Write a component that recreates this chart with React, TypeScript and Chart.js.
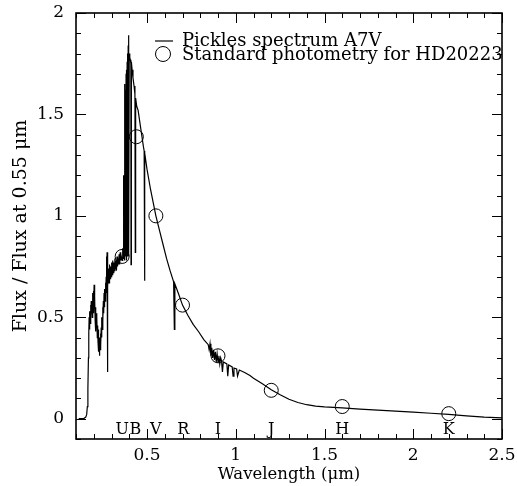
import React, { useEffect, useRef } from "react";
import { Chart, registerables } from "chart.js";

Chart.register(...registerables);

// Pickles A7V spectrum (wavelength in micron, flux normalised at 0.55 micron)
const specWave = [
  0.115, 0.13, 0.145, 0.155, 0.16, 0.164, 0.167, 0.17, 0.172, 0.174,
  0.176, 0.178, 0.18, 0.182, 0.184, 0.186, 0.188, 0.19, 0.192, 0.194,
  0.196, 0.198, 0.2, 0.202, 0.204, 0.206, 0.208, 0.21, 0.212, 0.214,
  0.216, 0.218, 0.22, 0.222, 0.224, 0.226, 0.228, 0.23, 0.232, 0.234,
  0.236, 0.238, 0.24, 0.242, 0.244, 0.246, 0.248, 0.25, 0.252, 0.254,
  0.256, 0.258, 0.26, 0.262, 0.264, 0.266, 0.268, 0.27, 0.272, 0.273,
  0.275, 0.2765, 0.278, 0.28, 0.283, 0.286, 0.289, 0.292, 0.295, 0.298,
  0.301, 0.304, 0.307, 0.31, 0.313, 0.316, 0.319, 0.322, 0.325, 0.328,
  0.331, 0.334, 0.337, 0.34, 0.343, 0.346, 0.349, 0.352, 0.355, 0.36,
  0.363, 0.365, 0.367, 0.368, 0.37, 0.371, 0.373, 0.374, 0.376, 0.377,
  0.379, 0.38, 0.382, 0.383, 0.385, 0.386, 0.388, 0.389, 0.391, 0.392,
  0.394, 0.395, 0.397, 0.398, 0.4, 0.403, 0.406, 0.409, 0.41, 0.412,
  0.416, 0.421, 0.427, 0.432, 0.434, 0.436, 0.442, 0.45, 0.46, 0.47,
  0.48, 0.484, 0.486, 0.488, 0.5, 0.52, 0.55, 0.57, 0.59, 0.61,
  0.63, 0.65, 0.654, 0.657, 0.68, 0.7, 0.73, 0.76, 0.79, 0.82,
  0.845, 0.85, 0.855, 0.86, 0.865, 0.87, 0.875, 0.88, 0.885, 0.89,
  0.895, 0.9, 0.905, 0.91, 0.915, 0.92, 0.925, 0.93, 0.95, 0.955,
  0.96, 0.98, 0.985, 0.99, 1.005, 1.01, 1.02, 1.05, 1.08, 1.1,
  1.15, 1.2, 1.25, 1.3, 1.35, 1.4, 1.45, 1.5, 1.6, 1.7,
  1.8, 1.9, 2.0, 2.1, 2.2, 2.3, 2.4, 2.5,
];
const specFlux = [
  0.0, 0.0, 0.002, 0.008, 0.02, 0.06, 0.15, 0.3, 0.42, 0.5,
  0.44, 0.53, 0.47, 0.56, 0.49, 0.58, 0.52, 0.57, 0.5, 0.62,
  0.55, 0.63, 0.52, 0.66, 0.56, 0.6, 0.48, 0.55, 0.43, 0.52,
  0.46, 0.5, 0.4, 0.46, 0.38, 0.44, 0.33, 0.4, 0.31, 0.37,
  0.34, 0.42, 0.36, 0.45, 0.4, 0.5, 0.44, 0.55, 0.48, 0.58,
  0.52, 0.62, 0.55, 0.64, 0.58, 0.67, 0.6, 0.7, 0.8, 0.62,
  0.82, 0.23, 0.7, 0.65, 0.74, 0.67, 0.76, 0.69, 0.75, 0.7,
  0.77, 0.71, 0.78, 0.72, 0.77, 0.73, 0.79, 0.74, 0.78, 0.73,
  0.8, 0.75, 0.79, 0.76, 0.81, 0.76, 0.82, 0.78, 0.8, 0.78,
  0.84, 0.79, 0.95, 0.8, 1.2, 0.82, 1.5, 0.78, 1.65, 0.85,
  1.62, 0.8, 1.7, 0.78, 1.72, 0.82, 1.76, 0.8, 1.8, 1.1,
  1.84, 1.0, 1.89, 0.8, 1.8, 1.78, 1.77, 1.75, 0.76, 1.76,
  1.72, 1.68, 1.64, 1.6, 0.82, 1.58, 1.54, 1.52, 1.46, 1.4,
  1.34, 1.32, 0.68, 1.31, 1.23, 1.13, 1.0, 0.93, 0.86, 0.79,
  0.73, 0.675, 0.44, 0.665, 0.61, 0.56, 0.51, 0.465, 0.43, 0.39,
  0.365, 0.34, 0.37, 0.31, 0.35, 0.3, 0.34, 0.29, 0.33, 0.28,
  0.32, 0.28, 0.31, 0.27, 0.3, 0.285, 0.23, 0.28, 0.27, 0.21,
  0.265, 0.255, 0.21, 0.25, 0.245, 0.21, 0.24, 0.228, 0.213, 0.2,
  0.172, 0.143, 0.118, 0.096, 0.08, 0.069, 0.062, 0.058, 0.053, 0.047,
  0.042, 0.037, 0.032, 0.027, 0.021, 0.014, 0.008, 0.004,
];

// Standard photometry for HD20223
const photWave = [0.36, 0.44, 0.55, 0.7, 0.9, 1.2, 1.6, 2.2];
const photFlux = [0.8, 1.39, 1.0, 0.56, 0.31, 0.14, 0.06, 0.025];

// Band labels
const bandNames = ["U", "B", "V", "R", "I", "J", "H", "K"];
const bandWave = [0.36, 0.435, 0.55, 0.705, 0.9, 1.2, 1.6, 2.2];

// Ticks
const xTickValues = [0.5, 1, 1.5, 2, 2.5];
const xTickLabels = ["0.5", "1", "1.5", "2", "2.5"];
const yTickValues = [0, 0.5, 1, 1.5, 2];
const yTickLabels = ["0", "0.5", "1", "1.5", "2"];

const FONT = '"DejaVu Serif", serif';

const framePlugin = {
  id: "frameTicks",
  afterDatasetsDraw(chart: any) {
    const { ctx, chartArea: a, scales } = chart;
    const x = scales.x;
    const y = scales.y;
    ctx.save();
    ctx.strokeStyle = "#000";
    ctx.lineWidth = 1.6;
    ctx.strokeRect(a.left, a.top, a.right - a.left, a.bottom - a.top);
    ctx.lineWidth = 1;
    ctx.beginPath();
    for (let i = 1; i <= 25; i++) {
      const px = Math.round(x.getPixelForValue(i / 10)) + 0.5;
      const len = i % 5 === 0 ? 10 : 5;
      ctx.moveTo(px, a.bottom);
      ctx.lineTo(px, a.bottom - len);
      ctx.moveTo(px, a.top);
      ctx.lineTo(px, a.top + len);
    }
    for (let i = -1; i <= 20; i++) {
      const py = Math.round(y.getPixelForValue(i / 10)) + 0.5;
      const len = i % 5 === 0 ? 10 : 5;
      ctx.moveTo(a.left, py);
      ctx.lineTo(a.left + len, py);
      ctx.moveTo(a.right, py);
      ctx.lineTo(a.right - len, py);
    }
    ctx.stroke();

    // band labels
    ctx.fillStyle = "#000";
    ctx.font = "16px " + FONT;
    ctx.textAlign = "center";
    ctx.textBaseline = "middle";
    const by = y.getPixelForValue(-0.053);
    bandNames.forEach((n, i) => {
      ctx.fillText(n, x.getPixelForValue(bandWave[i]), by);
    });

    // legend
    ctx.font = "18px " + FONT;
    ctx.textAlign = "left";
    const lx = a.left + 79;
    ctx.lineWidth = 1.2;
    ctx.beginPath();
    ctx.moveTo(lx, a.top + 28);
    ctx.lineTo(lx + 18, a.top + 28);
    ctx.stroke();
    ctx.fillText("Pickles spectrum A7V", lx + 27, a.top + 28);
    ctx.lineWidth = 1;
    ctx.beginPath();
    ctx.arc(lx + 8, a.top + 41, 7.5, 0, Math.PI * 2);
    ctx.stroke();
    ctx.fillText("Standard photometry for HD20223", lx + 27, a.top + 42);
    ctx.restore();
  },
};

export default function App() {
  const ref = useRef<HTMLCanvasElement | null>(null);
  useEffect(() => {
    if (!ref.current) return;
    const chart = new Chart(ref.current, {
      type: "scatter",
      data: {
        datasets: [
          {
            label: "Pickles spectrum A7V",
            data: specWave.map((w, i) => ({ x: w, y: specFlux[i] })),
            showLine: true,
            borderColor: "#000",
            borderWidth: 1.2,
            pointRadius: 0,
            tension: 0,
          },
          {
            label: "Standard photometry for HD20223",
            data: photWave.map((w, i) => ({ x: w, y: photFlux[i] })),
            showLine: false,
            pointStyle: "circle",
            pointRadius: 7,
            borderColor: "#000",
            borderWidth: 1,
            backgroundColor: "rgba(0,0,0,0)",
          },
        ],
      },
      options: {
        animation: false,
        responsive: false,
        devicePixelRatio: 1,
        layout: { padding: { top: 13, right: 15, left: 0, bottom: 0 } },
        plugins: { legend: { display: false }, tooltip: { enabled: false } },
        scales: {
          x: {
            type: "linear",
            min: 0.1,
            max: 2.5,
            grid: { display: false, drawTicks: false },
            border: { display: false },
            afterBuildTicks: (s: any) => {
              s.ticks = xTickValues.map((v) => ({ value: v }));
            },
            afterFit: (s: any) => {
              s.height = 47;
              s.paddingLeft = 0;
              s.paddingRight = 0;
            },
            ticks: {
              padding: 6,
              color: "#000",
              font: { family: FONT, size: 17 },
              maxRotation: 0,
              callback: (v: any) => {
                const k = xTickValues.indexOf(Number(v));
                return k >= 0 ? xTickLabels[k] : "";
              },
            },
            title: {
              display: true,
              text: "Wavelength (μm)",
              color: "#000",
              font: { family: FONT, size: 16.5 },
              padding: { top: 0, bottom: 1 },
            },
          },
          y: {
            type: "linear",
            min: -0.1,
            max: 2,
            grid: { display: false, drawTicks: false },
            border: { display: false },
            afterBuildTicks: (s: any) => {
              s.ticks = yTickValues.map((v) => ({ value: v }));
            },
            afterFit: (s: any) => {
              s.width = 76;
              s.paddingTop = 0;
              s.paddingBottom = 0;
            },
            ticks: {
              padding: 12,
              color: "#000",
              font: { family: FONT, size: 17 },
              callback: (v: any) => {
                const k = yTickValues.indexOf(Number(v));
                return k >= 0 ? yTickLabels[k] : "";
              },
            },
            title: {
              display: true,
              text: "Flux / Flux at 0.55 μm",
              color: "#000",
              font: { family: FONT, size: 19 },
              padding: { top: 10, bottom: 0 },
            },
          },
        },
      },
      plugins: [framePlugin],
    });
    return () => chart.destroy();
  }, []);
  return (
    <div style={{ position: "absolute", left: 0, top: 0, width: 517, height: 486 }}>
      <canvas ref={ref} width={517} height={486} style={{ width: 517, height: 486 }} />
    </div>
  );
}
